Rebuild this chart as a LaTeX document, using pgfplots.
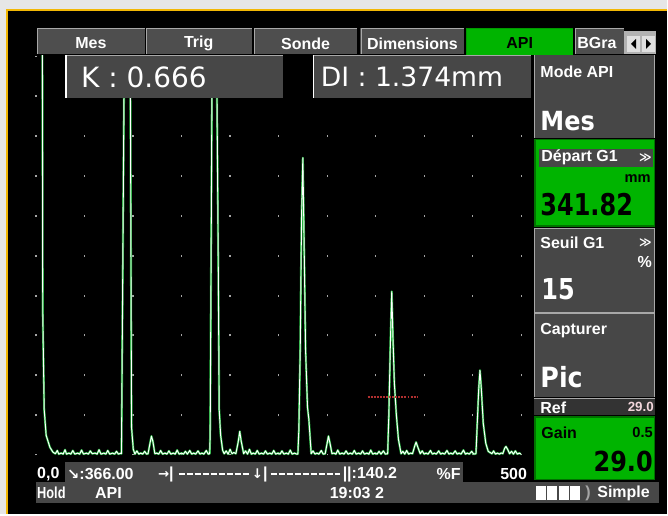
\documentclass[border=0pt]{standalone}
\usepackage{pgfplots}
\pgfplotsset{compat=1.18}
\usepackage{pgfplotstable}
\usepackage{graphicx}
\usepackage{fontspec}
\setmainfont{Liberation Sans}
\newfontfamily\dv{DejaVu Sans}
\definecolor{bggray}{HTML}{E6E6E6}
\definecolor{orng}{HTML}{F2B705}
\definecolor{scrgray}{HTML}{474747}
\definecolor{tabgray}{HTML}{4E4E4E}
\definecolor{brdgray}{HTML}{A8A8A8}
\definecolor{scrgreen}{HTML}{00B400}
\definecolor{trgreen}{HTML}{22B03C}
\definecolor{gatered}{HTML}{B03030}
\definecolor{pinkw}{HTML}{F3D6DC}
\newcommand{\lab}{\fontsize{12pt}{12pt}\selectfont\bfseries}

\pgfplotstableread{
x y
0 130
6.5 130
7.0 36
8.5 11.5
10.5 5
14.4 2
17.5 0.8
20 0.4
22 1.2
23.5 0.3
26 0.55
28 0.3
30 1.4
31.5 0.3
34 0.55
36 0.3
38 1.2
40 0.3
43 0.55
45 0.3
47 1.3
49 0.3
52 0.55
54 0.3
56 1.1
58 0.4
61 0.55
63 0.3
65 1.4
67 0.3
70 0.55
72 0.3
74 1.2
76 0.3
79 0.55
81 0.3
83 1.0
85 0.3
87 0.5
88.1 0.4
89.2 37
91 100
92 130
96.2 130
97.2 100
98.5 7
100.3 1.5
102 0.3
104 1.1
106 0.3
108 0.55
110 0.3
112 1.0
114 0.3
115.5 0.4
117.5 3
119 4.8
120.5 3.5
122.5 0.4
124.5 0.55
126.5 0.3
128.5 1.2
130.5 0.3
133 0.55
135 0.3
137 1.1
139 0.3
141.5 0.55
143.5 0.3
145.5 1.3
147.5 0.3
150 0.55
152 0.3
154 1.0
156 0.3
158.5 1.2
160.5 0.3
162.5 0.55
164.5 0.3
167 1.1
169 0.3
171 0.55
173 0.3
175.5 1.2
177.5 0.3
179 0.4
179.5 5
180.5 50
181.5 100
182.1 130
185.2 130
186.2 100
187.8 50
188.8 11.5
190.3 5
192.4 1.2
194 0.4
196 1.1
198 0.3
200 1.5
202 0.4
204 0.7
206 0.4
208.5 3.5
210 6
211.5 3.5
214 0.4
216 1.1
218 0.3
220 1.5
222 0.3
224 0.55
226 0.3
228 1.2
230 0.3
232.5 0.55
234.5 0.3
236.5 1.1
238.5 0.3
241 0.55
243 0.3
245 1.2
247 0.3
249.5 0.55
251.5 0.3
253.5 1.1
255.5 0.3
258 0.55
260 0.3
262 1.3
264 0.3
266.5 0.55
268.5 0.3
269.9 0.3
270.9 6.5
272.3 26.5
273.7 60
275 74.5
276.2 55
277.8 26.5
279.8 12
281.2 9
283.6 0.4
285.5 1.1
287.5 0.3
289.5 0.55
291.5 0.3
294 1.2
296 0.3
298 0.4
300 3
301.4 4.8
303 3
305 0.4
307 0.55
309 0.3
311 1.3
313 0.3
315.5 0.55
317.5 0.3
319.5 1.1
321.5 0.3
324 0.55
326 0.3
328 1.2
330 0.3
332.5 0.55
334.5 0.3
336.5 1.1
338.5 0.3
341 0.55
343 0.3
345 1.3
347 0.3
349.5 0.55
351.5 0.3
353.5 1.0
355.5 0.3
358 1.1
360 0.3
362.4 0.4
363.6 10
365.2 28
366.6 41
367.8 30
369.3 18
371.4 10
373.5 4
376.2 0.4
378 1.0
380 0.3
382 1.2
384 0.3
386 0.55
388 0.4
390.5 2.5
391.7 3.3
393.5 2
396 0.4
398 1.1
400 0.3
402 0.55
404 0.3
406.5 1.2
408.5 0.3
410.5 0.55
412.5 0.3
415 1.1
417 0.3
419 0.55
421 0.3
423.5 1.2
425.5 0.3
427.5 0.55
429.5 0.3
432 1.1
434 0.3
436 0.55
438 0.3
440.5 1.3
442.5 0.3
444.5 0.55
446.5 0.3
449 1.0
451 0.3
453.4 0.4
454.7 8
456.3 17
457.5 21.3
458.8 17
460.9 8
463.5 3
466 1
469.8 0.4
471.5 1.1
473.5 0.3
475.5 0.55
477.5 0.3
479.5 0.6
481 0.4
483 1.8
484.3 2.2
486 1.5
488 0.4
490 1.0
492 0.3
494 1.1
496 0.3
498 0.55
500 0.3
}\trace

\pgfplotstableread{
x y
341.82 14.6
393.3 14.6
}\gate

\begin{document}
\begin{tikzpicture}
\begin{scope}[x=0.75pt,y=-0.75pt]
\fill[bggray] (0,0) rectangle (668,515);
\fill[black] (7,10) rectangle (668,515);
\draw[orng, line width=1.5pt] (7,515) -- (7,10) -- (668,10);
\end{scope}

\begin{axis}[
  at={(27pt,-342pt)}, anchor=south west,
  scale only axis, width=364.5pt, height=300pt,
  xmin=0, xmax=500, ymin=0, ymax=100,
  axis line style={draw=none},
  tick style={draw=none},
  xtick={0,50,...,500}, ytick=\empty,
  xticklabels=\empty,
  xmajorgrids,
  major x grid style={draw=gray!70!white, line width=0.9pt, dash pattern=on 1.5pt off 28.5pt, dash phase=0.75pt},
]
\addplot[trgreen, line width=1.6pt, line join=round] table[x=x,y=y]{\trace};
\addplot[white, line width=0.7pt, line join=round] table[x=x,y=y]{\trace};
\addplot[gatered, line width=1.3pt, dash pattern=on 1.5pt off 0.8pt] table[x=x,y=y]{\gate};
\end{axis}

\begin{scope}[x=0.75pt,y=-0.75pt]
% tabs
\foreach \a/\b/\t in {37/145/Mes, 146/252/Trig, 254/358/Sonde, 361/465/Dimensions} {
  \fill[tabgray] (\a,28) rectangle (\b,54);
  \draw[brdgray, line width=0.9pt] (\a+0.7,54) -- (\a+0.7,28.6) -- (\b,28.6);
  \node[text=white, font=\lab, inner sep=0] at ({(\a+\b)/2},43.5) {\t};
}
\fill[scrgreen] (467,28) rectangle (574,55);
\draw[green!60!black, line width=0.9pt] (467.5,55) -- (467.5,28.5) -- (574,28.5);
\node[text=black, font=\lab, inner sep=0] at (520.5,43.5) {API};
\fill[tabgray] (576,28) rectangle (625,54);
\draw[brdgray, line width=0.9pt] (576.7,54) -- (576.7,28.6) -- (625,28.6);
\node[text=white, font=\lab, inner sep=0, anchor=west] at (578,43.5) {BGra};
\fill[gray!60] (625,31) rectangle (657,54);
\fill[gray!25] (628,36) rectangle (641,52);
\fill[gray!25] (643,36) rectangle (656,52);
\fill[black] (637,39) -- (632,44) -- (637,49) -- cycle;
\fill[black] (647,39) -- (652,44) -- (647,49) -- cycle;

% K and DI boxes
\fill[scrgray] (65,55) rectangle (283,98);
\draw[brdgray, line width=0.9pt] (65,55.6) -- (283,55.6);
\draw[white, line width=1.2pt] (66,55) -- (66,98);
\node[text=white, font={\dv\fontsize{21pt}{21pt}\selectfont}, inner sep=0, anchor=west] at (81,77) {K : 0.666};
\fill[scrgray] (313,55) rectangle (532,98);
\draw[brdgray, line width=0.9pt] (313,55.6) -- (532,55.6);
\draw[white, line width=1.2pt] (314,55) -- (314,98);
\node[text=white, font={\dv\fontsize{20pt}{20pt}\selectfont}, inner sep=0, anchor=west] at (321,77) {DI : 1.374mm};

% right panel
\fill[scrgray] (535,55) rectangle (656,138);
\draw[brdgray, line width=0.9pt] (535.6,55) -- (535.6,138) (655.4,55) -- (655.4,138);
\node[text=white, font=\lab, inner sep=0, anchor=west] at (541,71.5) {Mode API};
\node[text=white, font={\dv\fontsize{18pt}{18pt}\selectfont\bfseries}, inner sep=0, anchor=west] at (541,121) {\scalebox{1}[1.1]{Mes}};

\fill[scrgreen] (535,139) rectangle (656,227);
\draw[green!45!black, line width=1pt] (535.7,139.7) rectangle (655.3,226.3);
\fill[scrgray] (540,149) rectangle (654,167);
\node[text=white, font=\lab, inner sep=0, anchor=west] at (542,158) {Départ G1};
\node[text=white, font={\dv\fontsize{9pt}{9pt}\selectfont\bfseries}, inner sep=0, anchor=east] at (653,158) {≫};
\node[text=black, font={\fontsize{11pt}{11pt}\selectfont\bfseries}, inner sep=0, anchor=east] at (652,179) {mm};
\node[text=black, font={\dv\fontsize{18pt}{18pt}\selectfont\bfseries}, inner sep=0, anchor=west] at (541,205) {\scalebox{1}[1.25]{341.82}};

\fill[scrgray] (535,228) rectangle (656,312);
\draw[brdgray, line width=0.9pt] (535.6,228) -- (535.6,312) (655.4,228) -- (655.4,312) (535,228.5) -- (656,228.5);
\node[text=white, font=\lab, inner sep=0, anchor=west] at (541,243) {Seuil G1};
\node[text=white, font={\dv\fontsize{9pt}{9pt}\selectfont\bfseries}, inner sep=0, anchor=east] at (653,243) {≫};
\node[text=white, font=\lab, inner sep=0, anchor=east] at (653,262) {\%};
\node[text=white, font={\dv\fontsize{18pt}{18pt}\selectfont\bfseries}, inner sep=0, anchor=west] at (542,290) {\scalebox{1}[1.2]{15}};

\fill[scrgray] (535,313) rectangle (656,398);
\draw[brdgray, line width=0.9pt] (535.6,313) -- (535.6,398) (655.4,313) -- (655.4,398) (535,313.5) -- (656,313.5);
\node[text=white, font=\lab, inner sep=0, anchor=west] at (541,331) {Capturer};
\node[text=white, font={\dv\fontsize{19pt}{19pt}\selectfont\bfseries}, inner sep=0, anchor=west] at (541,378) {\scalebox{1}[1.1]{Pic}};

\fill[black!80] (535,399) rectangle (656,416);
\draw[brdgray, line width=0.9pt] (535,399.5) -- (656,399.5);
\node[text=white, font=\lab, inner sep=0, anchor=west] at (541,408) {Ref};
\node[text=pinkw, font={\fontsize{10pt}{10pt}\selectfont\bfseries}, inner sep=0, anchor=east] at (655,408) {29.0};

\fill[scrgreen] (535,417) rectangle (656,481);
\draw[green!45!black, line width=1pt] (535.7,417.7) rectangle (655.3,480.3);
\node[text=black, font=\lab, inner sep=0, anchor=west] at (542,433) {Gain};
\node[text=black, font={\fontsize{11pt}{11pt}\selectfont\bfseries}, inner sep=0, anchor=east] at (654,433) {0.5};
\node[text=black, font={\dv\fontsize{18pt}{18pt}\selectfont\bfseries}, inner sep=0, anchor=east] at (654,462) {\scalebox{1}[1.15]{29.0}};

% bottom status bar
\fill[scrgray] (65,463) rectangle (464,483);
\fill[scrgray] (36,483) rectangle (660,504);
\node[text=white, font=\lab, inner sep=0, anchor=west] at (37,475) {0,0};
\node[text=white, font=\lab, inner sep=0, anchor=west] at (67,475) {{\dv\fontsize{11pt}{11pt}\selectfont ↘}:366.00};
\node[text=white, font=\lab, inner sep=0, anchor=west] at (158,475) {{\dv\fontsize{10pt}{10pt}\selectfont →}|};
\draw[white, line width=1.4pt, dash pattern=on 4.5pt off 1.5pt] (179,475) -- (251,475);
\node[text=white, font=\lab, inner sep=0, anchor=west] at (252,475) {{\dv\fontsize{10pt}{10pt}\selectfont ↓}|};
\draw[white, line width=1.4pt, dash pattern=on 4.5pt off 1.5pt] (271,475) -- (342,475);
\node[text=white, font=\lab, inner sep=0, anchor=west] at (343,475) {||:140.2};
\node[text=white, font=\lab, inner sep=0, anchor=west] at (437,475) {\%F};
\node[text=white, font=\lab, inner sep=0, anchor=east] at (528,475) {500};
\node[text=white, font=\lab, inner sep=0, anchor=west] at (37,494) {\scalebox{0.8}[1]{Hold}};
\node[text=white, font=\lab, inner sep=0, anchor=west] at (95,494) {API};
\node[text=white, font=\lab, inner sep=0, anchor=west] at (330,494) {19:03 2};
\foreach \a in {537,548,560,571} { \fill[white] (\a,487) rectangle (\a+9.5,501); }
\node[text=gray!70, font=\lab, inner sep=0, anchor=west] at (586,494) {)};
\node[text=white, font=\lab, inner sep=0, anchor=west] at (598,494) {Simple};
\end{scope}
\end{tikzpicture}
\end{document}
